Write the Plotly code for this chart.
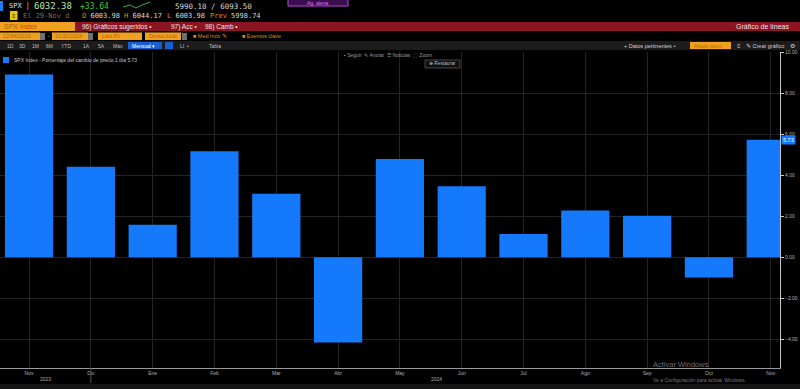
import plotly.graph_objects as go

# ---- data ----
months = ["Nov", "Dic", "Ene", "Feb", "Mar", "Abr", "May", "Jun", "Jul", "Ago", "Sep", "Oct", "Nov"]
pct_change = [8.92, 4.42, 1.59, 5.17, 3.10, -4.16, 4.80, 3.47, 1.13, 2.28, 2.02, -0.99, 5.73]
year_labels = ["2023", "2024"]
year_pos = [0.27, 6.6]
last_label = "5.73"

W, H = 800, 389
L, R, T, B = 0, 20, 52, 21
PW, PH = W - L - R, H - T - B

def px(x):
    return (x - L) / PW

def py(y):
    return 1 - (y - T) / PH

BLUE = "#1479fb"
ORANGE = "#f0a020"
MONO = "DejaVu Sans Mono"
SANS = "Liberation Sans"

fig = go.Figure()
fig.add_trace(go.Bar(
    x=list(range(len(months))), y=pct_change,
    marker=dict(color=BLUE, line=dict(width=0)),
    width=0.78, showlegend=False, hoverinfo="skip",
))

shapes = []
ann = []

def rect(x0, y0, x1, y1, fill, line=None, lw=0):
    shapes.append(dict(type="rect", xref="paper", yref="paper",
                       x0=px(x0), x1=px(x1), y0=py(y1), y1=py(y0),
                       fillcolor=fill, line=dict(color=line or fill, width=lw), layer="above"))

def text(x, y, s, color="#d0d0d0", size=7, font=SANS, anchor="left"):
    ann.append(dict(xref="paper", yref="paper", x=px(x), y=py(y), text=s,
                    showarrow=False, xanchor=anchor, yanchor="middle",
                    font=dict(color=color, size=size, family=font)))

# ---- header row 1 ----
rect(0, 1, 3, 11, "#1a7cff")
text(7, 6, "SPX", "#e0e0e0", 7, MONO)
rect(27, 2, 28.5, 10, "#d02020")
text(32, 6, "6032.38", "#b8e4a8", 9, MONO)
text(78, 6, "+33.64", "#38c838", 8, MONO)
shapes.append(dict(type="path", xref="paper", yref="paper",
                   path=f"M {px(123)} {py(7)} L {px(130)} {py(5)} L {px(136)} {py(8)} L {px(142)} {py(5)} L {px(150)} {py(2)}",
                   line=dict(color="#2fb52f", width=1)))
text(173, 6, "5990.10 / 6093.50", "#d8d8d8", 7.5, MONO)
rect(288, -2, 348, 6, "#3a0e4e", "#c040e0", 1)
text(318, 2.5, "Ag. alerta", "#e070f0", 5, SANS, "center")

# ---- header row 2 ----
rect(10, 11, 17.5, 20, "#e8c800")
text(13.7, 15.5, "≡", "#202000", 6, SANS, "center")
text(21, 15.5, "El 29-Nov d", "#7d6f55", 7, MONO)
text(80, 15.5, "<span style='color:#e08a00'>O</span> 6003.98", "#d8d8d8", 7, MONO)
text(122, 15.5, "<span style='color:#e08a00'>H</span> 6044.17", "#d8d8d8", 7, MONO)
text(165, 15.5, "<span style='color:#e08a00'>L</span> 6003.98", "#d8d8d8", 7, MONO)
text(208, 15.5, "<span style='color:#e08a00'>Prev</span> 5998.74", "#d8d8d8", 7, MONO)

# ---- header row 3 (red bar) ----
rect(0, 22, 800, 31, "#8b1520")
rect(0, 22, 75, 31, ORANGE)
text(2, 26.5, "SPX Index", "#b05a00", 7, SANS)
text(80, 26.5, "96) Gráficos sugeridos •", "#f0e0e0", 6.5, SANS)
text(169, 26.5, "97) Acc •", "#f0e0e0", 6.5, SANS)
text(203, 26.5, "98) Camb •", "#f0e0e0", 6.5, SANS)
text(791, 26.5, "Gráfico de líneas", "#f0e0e0", 7, SANS, "right")

# ---- header row 4 ----
rect(0, 32.5, 40, 40, ORANGE); text(1, 36.3, "12/04/2019", "#b86400", 5.5)
rect(40, 33, 45, 40, "#707070")
text(48.5, 36.3, "-", "#c0c0c0", 6, SANS, "center")
rect(52, 32.5, 88, 40, ORANGE); text(53, 36.3, "11/30/2024", "#b86400", 5.5)
rect(88, 33, 93, 40, "#707070")
rect(98, 32.5, 142, 40, ORANGE); text(100, 36.3, "Last Px", "#b86400", 5.5)
rect(145, 32.5, 181, 40, ORANGE); text(147, 36.3, "Divisa local", "#b86400", 5.5)
rect(182, 33, 187, 40, "#707070")
text(191, 36.3, "■ Med móv ✎", "#d89020", 5.5)
text(240, 36.3, "■ Eventos clave", "#d89020", 5.5)

# ---- header row 5 ----
rect(0, 41, 800, 50, "#1c1c1c")
for xx, s in [(5, "1D"), (17, "3D"), (30, "1M"), (44, "6M"), (59, "YTD"), (81, "1A"), (96, "5A"), (111, "Máx")]:
    text(xx, 45.5, s, "#bdbdbd", 5)
rect(128, 42, 162, 49, "#1a5fd0"); text(130, 45.5, "Mensual ▾", "#ffffff", 5)
rect(165, 42, 173, 49, "#1a5fd0")
text(178, 45.5, "LI  •", "#bdbdbd", 5)
text(207, 45.5, "Tabla", "#bdbdbd", 5)
text(622, 45.5, "+ Datos pertinentes •", "#d0d0d0", 5.5)
rect(690, 42, 731, 49, ORANGE); text(692, 45.5, "Añadir datos", "#c06a00", 5)
text(735, 45.5, "≡", "#d0d0d0", 6)
text(744, 45.5, "✎ Crear gráfico", "#d0d0d0", 5.5)
text(792, 45.5, "⚙", "#d0d0d0", 6, SANS, "center")

# ---- chart overlays ----
rect(3, 57, 9, 63, BLUE)
text(12, 60, "SPX Index - Porcentaje del cambio de precio 1 día 5.73", "#c8c8c8", 5)
text(342, 54.5, "▪ Seguir  ✎ Anotar  ☰ Noticias  ⬚ Zoom", "#9a9a9a", 5)
rect(425, 60, 460, 68, "#101010", "#555555", 0.8)
text(442.5, 64, "⊕ Restaurar", "#bdbdbd", 4.8, SANS, "center")

# last value marker on the axis
ann.append(dict(xref="paper", yref="y", x=1.0, y=pct_change[-1], text=last_label,
                showarrow=False, xanchor="left", yanchor="middle", xshift=1,
                bgcolor=BLUE, font=dict(color="#ffffff", size=5.5, family=SANS),
                borderpad=1))

# year labels
for yl, pos in zip(year_labels, year_pos):
    ann.append(dict(xref="x", yref="paper", x=pos, y=py(379), text=yl, showarrow=False,
                    xanchor="center", yanchor="middle",
                    font=dict(color="#a8a8a8", size=5, family=SANS)))
shapes.append(dict(type="line", xref="x", yref="paper", x0=1, x1=1, y0=py(368), y1=py(383),
                   line=dict(color="#555555", width=1)))

# windows watermark + bottom strip
text(651, 364, "Activar Windows", "#6e6e6e", 7.5)
text(651, 379.5, "Ve a Configuración para activar Windows.", "#7a7a7a", 5)
rect(0, 384, 800, 389, "#161616")

fig.update_layout(
    width=W, height=H,
    margin=dict(l=L, r=R, t=T, b=B, pad=0),
    paper_bgcolor="#000000", plot_bgcolor="#000000",
    bargap=0.2, shapes=shapes, annotations=ann,
    xaxis=dict(range=[-0.47, 12.15], tickvals=list(range(len(months))), ticktext=months,
               showgrid=True, gridcolor="#242424", gridwidth=1,
               showline=True, linecolor="#9a9a9a", linewidth=1, ticks="",
               tickfont=dict(color="#b0b0b0", size=5, family=SANS),
               zeroline=False, fixedrange=True),
    yaxis=dict(side="right", range=[-5.41, 10.02], dtick=2, tick0=0, tickformat=".2f",
               showgrid=True, gridcolor="#242424", gridwidth=1,
               showline=True, linecolor="#c8c8c8", linewidth=1,
               ticks="outside", ticklen=3, tickcolor="#c8c8c8",
               tickfont=dict(color="#b0b0b0", size=5, family=SANS),
               zeroline=False, fixedrange=True),
    font=dict(family=SANS),
)

fig.write_html("out.html", config={"displayModeBar": False},
               post_script="document.body.style.margin='0';document.body.style.background='#000';")
